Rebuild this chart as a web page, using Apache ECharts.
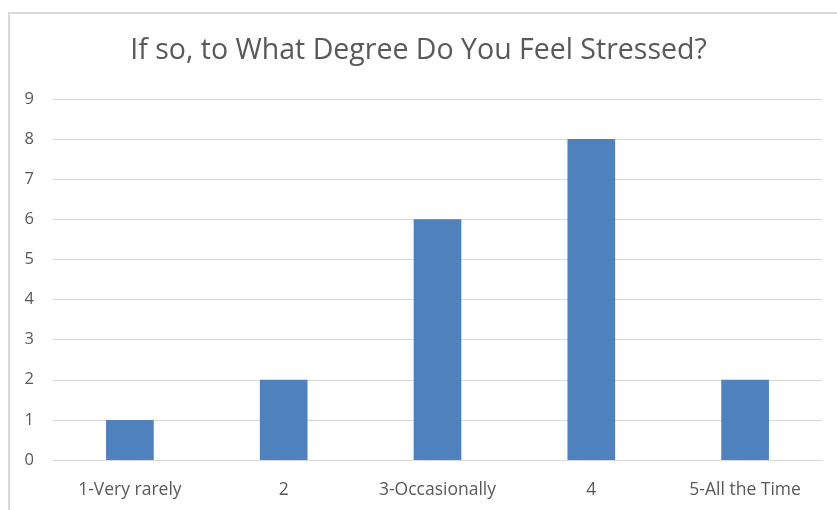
<!DOCTYPE html>
<html>
<head>
<meta charset="utf-8">
<script src="https://cdn.jsdelivr.net/npm/echarts@6/dist/echarts.min.js"></script>
<style>
  html, body { margin: 0; padding: 0; background: #fff; }
  #chart { width: 837px; height: 510px; }
</style>
</head>
<body>
<div id="chart"></div>
<script>
// Survey responses: stress level frequency
const categories = ['1-Very rarely', '2', '3-Occasionally', '4', '5-All the Time'];
const counts = [1, 2, 6, 8, 2];
const yTicks = { min: 0, max: 9, interval: 1 };
const titleText = 'If so, to What Degree Do You Feel Stressed?';

const chart = echarts.init(document.getElementById('chart'));
const font = '"Open Sans", Lato, sans-serif';

chart.setOption({
  animation: false,
  graphic: [{
    type: 'rect',
    shape: { x: 9, y: 13, width: 840, height: 510 },
    style: { fill: 'none', stroke: '#d9d9d9', lineWidth: 2 },
    silent: true
  }],
  title: {
    text: titleText,
    left: 'center',
    top: 31,
    textStyle: { fontFamily: font, fontSize: 28.5, fontWeight: 'normal', color: '#595959' }
  },
  grid: { left: 53, right: 15, top: 99, bottom: 50, containLabel: false },
  xAxis: {
    type: 'category',
    data: categories,
    axisLine: { show: true, lineStyle: { color: '#d9d9d9', width: 1 } },
    axisTick: { show: false },
    axisLabel: { fontFamily: font, fontSize: 17.5, color: '#595959', margin: 21 }
  },
  yAxis: {
    type: 'value',
    min: yTicks.min,
    max: yTicks.max,
    interval: yTicks.interval,
    axisLine: { show: false },
    axisTick: { show: false },
    splitLine: { lineStyle: { color: '#d9d9d9', width: 1 } },
    axisLabel: { fontFamily: font, fontSize: 16.5, color: '#595959', margin: 19 }
  },
  series: [{
    type: 'bar',
    data: counts,
    barWidth: '31%',
    itemStyle: { color: '#4f81bd' }
  }]
});
</script>
</body>
</html>
